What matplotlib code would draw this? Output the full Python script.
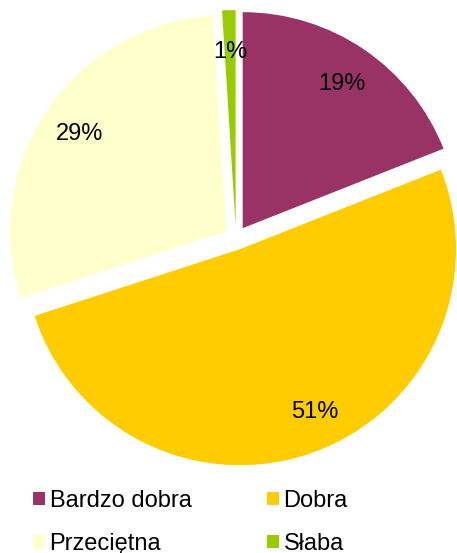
import matplotlib
matplotlib.use("Agg")
import matplotlib.pyplot as plt
import numpy as np

categories = ["Bardzo dobra", "Dobra", "Przeciętna", "Słaba"]
values = [19, 51, 29, 1]
colors = ["#993366", "#FFCC00", "#FFFFCC", "#99CC00"]

plt.rcParams['font.family'] = ['Liberation Sans', 'DejaVu Sans']

W, H = 457, 553
fig = plt.figure(figsize=(W / 100, H / 100), dpi=100)
ax = fig.add_axes([0, 0, 1, 1])

R = 216.0
cx, cy = 236.0, 238.0
PCTDIST = 0.82

wedges, texts, autotexts = ax.pie(
    values, colors=colors, startangle=90, counterclock=False,
    explode=[0.055] * 4, autopct='%1.0f%%', pctdistance=PCTDIST,
    textprops=dict(fontsize=17, color='black'),
    wedgeprops=dict(linewidth=0))
for t in autotexts:
    t.set_va('center_baseline')

# Excel "best fit" places the large slice's label a bit further round
w = wedges[1]
ang = np.deg2rad((w.theta1 + w.theta2) / 2 + 5)
autotexts[1].set_position((w.center[0] + PCTDIST * w.r * np.cos(ang),
                           w.center[1] + PCTDIST * w.r * np.sin(ang)))

ax.set_xlim(-cx / R, (W - cx) / R)
ax.set_ylim(-(H - cy) / R, cy / R)
ax.set_aspect('equal')
ax.axis('off')

# legend reads row-wise: row1 Bardzo dobra, Dobra; row2 Przeciętna, Słaba
order = [0, 2, 1, 3]
leg = ax.legend([wedges[i] for i in order], [categories[i] for i in order],
                ncol=2, frameon=False,
                loc='upper left', bbox_to_anchor=(33 / W, 1 - 490 / H),
                fontsize=17, handlelength=0.5, handleheight=0.5,
                handletextpad=0.2, columnspacing=3.2, labelspacing=0.88,
                borderpad=0, borderaxespad=0)

fig.savefig("out.png", dpi=100)
